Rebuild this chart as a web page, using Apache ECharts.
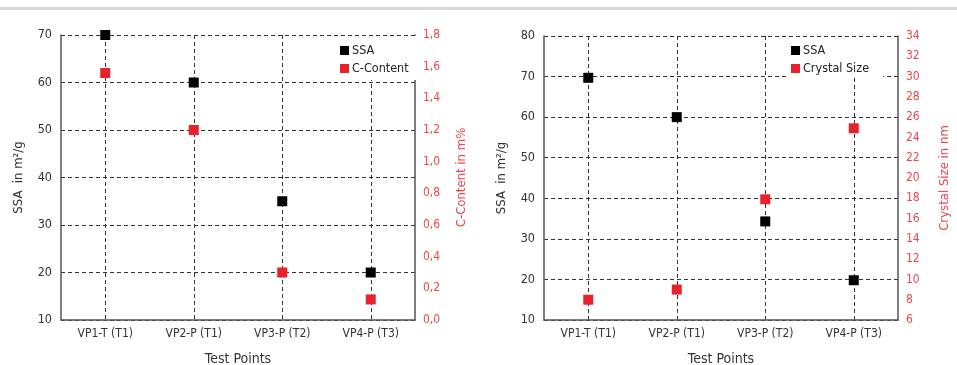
<!DOCTYPE html>
<html>
<head>
<meta charset="utf-8">
<script src="https://cdn.jsdelivr.net/npm/echarts@6/dist/echarts.min.js"></script>
<style>
  html, body { margin: 0; padding: 0; background: #fff; }
  #chart { width: 957px; height: 365px; }
</style>
</head>
<body>
<div id="chart"></div>
<script>
// Test points shared by both panels
const categories = ['VP1-T (T1)', 'VP2-P (T1)', 'VP3-P (T2)', 'VP4-P (T3)'];

// Left panel: specific surface area vs. carbon content
const ssaLeft = [70, 60, 35, 20];
const cContent = [1.56, 1.2, 0.3, 0.13];

// Right panel: specific surface area vs. crystal size
const ssaRight = [69.7, 60, 34.3, 19.8];
const crystalSize = [8, 9, 17.9, 24.9];

const FONT = '"Liberation Sans Narrow", "DejaVu Sans Condensed", "Arial Narrow", sans-serif';
const TEXT = '#333';
const RED_TEXT = '#f0444c';
const RED = '#e8212b';
const AXIS = '#555';

const chart = echarts.init(document.getElementById('chart'), null, { renderer: 'canvas' });

function catAxis(gridIndex) {
  return {
    type: 'category', gridIndex, data: categories,
    name: 'Test Points', nameLocation: 'middle', nameGap: 32,
    nameTextStyle: { color: TEXT, fontSize: 14, fontFamily: FONT },
    axisLine: { lineStyle: { color: AXIS, width: 1.5 } },
    axisTick: { show: false },
    axisLabel: { color: TEXT, fontSize: 12, fontFamily: FONT, margin: 8 },
    splitLine: { show: true, alignWithLabel: true, lineStyle: { color: '#333', type: [4, 3], width: 1 } }
  };
}

function leftValAxis(gridIndex, min, max, interval) {
  return {
    type: 'value', gridIndex, position: 'left', min, max, interval,
    name: 'SSA  in m²/g', nameLocation: 'middle', nameGap: 36,
    nameTextStyle: { color: TEXT, fontSize: 13, fontFamily: FONT },
    axisLine: { show: true, lineStyle: { color: AXIS, width: 1.5 } },
    axisTick: { show: false },
    axisLabel: { color: TEXT, fontSize: 12.5, fontFamily: FONT, margin: 9 },
    splitLine: { show: true, lineStyle: { color: '#333', type: [4, 3], width: 1 } }
  };
}

function rightValAxis(gridIndex, min, max, interval, name, formatter, gap) {
  return {
    type: 'value', gridIndex, position: 'right', min, max, interval,
    name, nameLocation: 'middle', nameGap: gap,
    nameTextStyle: { color: RED_TEXT, fontSize: 13, fontFamily: FONT },
    axisLine: { show: true, lineStyle: { color: AXIS, width: 1.5 } },
    axisTick: { show: false },
    axisLabel: { color: RED_TEXT, fontSize: 12, fontFamily: FONT, margin: 8, formatter },
    splitLine: { show: false }
  };
}

function legend(left, top, padding, items) {
  return {
    orient: 'vertical', left, top, data: items,
    backgroundColor: '#fff', padding,
    itemWidth: 9, itemHeight: 9, itemGap: 5,
    textStyle: { color: '#222', fontSize: 12.5, fontFamily: FONT, padding: [0, 0, 0, -2] }
  };
}

function scatter(name, data, xIdx, yIdx, color) {
  return {
    type: 'scatter', name, data, xAxisIndex: xIdx, yAxisIndex: yIdx,
    symbol: 'rect', symbolSize: 10,
    itemStyle: { color, opacity: 1 }, z: 5
  };
}

chart.setOption({
  animation: false,
  graphic: [{
    type: 'line', shape: { x1: 0, y1: 8.5, x2: 957, y2: 8.5 },
    style: { stroke: '#d9d9d9', lineWidth: 3 }
  }],
  grid: [
    { left: 61, right: 542, top: 35, bottom: 45, outerBoundsMode: 'none' },
    { left: 544, right: 59, top: 36, bottom: 45, outerBoundsMode: 'none' }
  ],
  legend: [
    legend(335, 36, [8, 14, 5, 5], ['SSA', 'C-Content']),
    legend(786, 37, [7, 14, 3, 5], ['SSA ', 'Crystal Size'])
  ],
  xAxis: [catAxis(0), catAxis(1)],
  yAxis: [
    leftValAxis(0, 10, 70, 10),
    rightValAxis(0, 0, 1.8, 0.2, 'C-Content in m%', v => v.toFixed(1).replace('.', ','), 40),
    leftValAxis(1, 10, 80, 10),
    rightValAxis(1, 6, 34, 2, 'Crystal Size in nm', v => String(v), 40)
  ],
  series: [
    scatter('SSA', ssaLeft, 0, 0, '#000'),
    scatter('C-Content', cContent, 0, 1, RED),
    scatter('SSA ', ssaRight, 1, 2, '#000'),
    scatter('Crystal Size', crystalSize, 1, 3, RED)
  ]
});
</script>
</body>
</html>
